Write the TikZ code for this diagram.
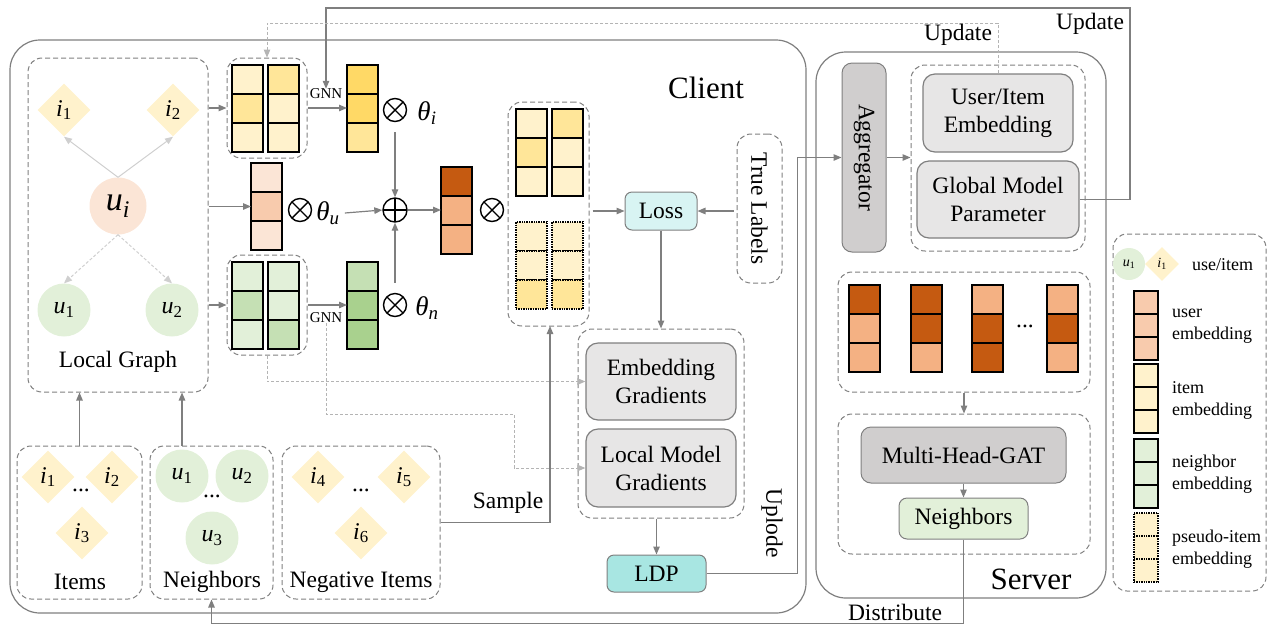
\documentclass[tikz,border=0pt]{standalone}
\usepackage{fontspec}
\setmainfont{Liberation Serif}
\usetikzlibrary{arrows.meta,shapes.geometric,calc}

\definecolor{itemL}{HTML}{FFF2CC}
\definecolor{itemM}{HTML}{FFE699}
\definecolor{itemD}{HTML}{FFD966}
\definecolor{userL}{HTML}{FBE5D6}
\definecolor{userM}{HTML}{F8CBAD}
\definecolor{nbL}{HTML}{E2F0D9}
\definecolor{nbM}{HTML}{C5E0B4}
\definecolor{nbD}{HTML}{A9D18E}
\definecolor{fusD}{HTML}{C55A11}
\definecolor{fusL}{HTML}{F4B183}
\definecolor{boxG}{HTML}{E7E6E6}
\definecolor{boxD}{HTML}{D0CECE}
\definecolor{lossC}{HTML}{D8F4F3}
\definecolor{ldpC}{HTML}{A8E6E2}
\definecolor{lineG}{HTML}{7F7F7F}
\definecolor{lineL}{HTML}{B4B4B4}
\definecolor{edgeL}{HTML}{CFCFCF}

% box given by its corners: style, name, x1, y1, x2, y2 (text follows)
\newcommand\place[6]{\node[#1, minimum width={#5-#3}, minimum height={#6-#4}] (#2) at ({(#3+#5)/2},{(#4+#6)/2})}
% a column of three embedding cells: [extra style] name, x, y, colours
\newcommand\ecol[7][]{%
  \node[cell,#1,fill=#5,anchor=north west] (#2a) at (#3,#4) {};
  \node[cell,#1,fill=#6,anchor=north] (#2b) at (#2a.south) {};
  \node[cell,#1,fill=#7,anchor=north] (#2c) at (#2b.south) {};}
\newcommand\vv[2]{\textit{#1}\textsubscript{#2}}

\begin{document}
\begin{tikzpicture}[x=1pt,y=-1pt,
  every node/.style={font=\fontsize{23.5}{28}\selectfont, inner sep=0pt},
  frame/.style={draw=lineG, line width=1.2pt, rounded corners=30pt},
  grp/.style={draw=lineG, line width=1pt, dash pattern=on 5pt off 3pt, rounded corners=14pt},
  cell/.style={draw=black, line width=1.4pt, minimum width=31pt, minimum height=29pt, outer sep=0pt},
  pseudo/.style={densely dotted, line width=1.1pt},
  arr/.style={draw=lineG, line width=1.2pt, -{Triangle[length=8pt,width=6.5pt]}},
  larr/.style={draw=lineL, line width=1pt, dash pattern=on 3pt off 2pt, -{Triangle[length=8pt,width=6.5pt]}},
  gedge/.style={draw=edgeL, line width=1pt, -{Triangle[length=8pt,width=6.5pt]}},
  itemd/.style={diamond, aspect=1, fill=itemL, minimum size=53pt, font=\fontsize{24}{24}\selectfont},
  nbc/.style={circle, fill=nbL, minimum size=53pt, font=\fontsize{24}{24}\selectfont},
  graybox/.style={draw=lineG, line width=1.2pt, fill=boxG, rounded corners=12pt, align=center, font=\fontsize{23.5}{28}\selectfont},
  darkbox/.style={draw=lineG, line width=1pt, fill=boxD, rounded corners=10pt},
  otimes/.style={circle, draw=black, line width=1.4pt, minimum size=23pt, path picture={
      \draw[line width=1.4pt] (path picture bounding box.north west) -- (path picture bounding box.south east)
        (path picture bounding box.north east) -- (path picture bounding box.south west);}},
  oplus/.style={circle, draw=black, line width=1.4pt, minimum size=24pt, path picture={
      \draw[line width=1.4pt] (path picture bounding box.north) -- (path picture bounding box.south)
        (path picture bounding box.east) -- (path picture bounding box.west);}},
  theta/.style={font=\fontsize{27}{27}\selectfont},
  small/.style={font=\fontsize{15}{15}\selectfont},
  legtxt/.style={font=\fontsize{18}{22}\selectfont, align=left, anchor=west},
]
\useasboundingbox (0,0) rectangle (1271,625);

% ---------- outer frames ----------
\place{frame}{client}{10}{40}{806}{613}{};
\place{frame}{server}{816}{52}{1106}{598}{};
\node[font=\fontsize{31}{31}\selectfont] (clientlbl) at (706,88) {Client};
\node[font=\fontsize{31}{31}\selectfont] (serverlbl) at (1031,579) {Server};

% ---------- local graph ----------
\place{grp}{lg}{28}{58}{208}{392}{};
\node[itemd] (gi1) at (64,110) {\vv{i}{1}};
\node[itemd] (gi2) at (173,110) {\vv{i}{2}};
\node[circle, fill=userL, minimum size=57pt, font=\fontsize{34}{34}\selectfont] (gui) at (118,206) {\vv{u}{\textit{i}}};
\node[nbc] (gu1) at (64,310) {\vv{u}{1}};
\node[nbc] (gu2) at (172,310) {\vv{u}{2}};
\draw[gedge] (gui.north) -- (gi1.south);
\draw[gedge] (gui.north) -- (gi2.south);
\draw[gedge, dash pattern=on 3pt off 2pt] (gui.south) -- (gu1.north);
\draw[gedge, dash pattern=on 3pt off 2pt] (gui.south) -- (gu2.north);
\node (lglbl) at (118,362) {Local Graph};

% ---------- item branch ----------
\place{grp}{ig}{227}{58}{307}{158}{};
\ecol{igA}{232}{65}{itemL}{itemM}{itemL}
\ecol{igB}{268}{65}{itemM}{itemL}{itemL}
\ecol{gi}{347}{65}{itemD}{itemD}{itemM}
\node[small] (gnnI) at (326,94) {GNN};
\node[otimes] (oti) at (395,110) {};
\node[theta] (thi) at (427,113) {\vv{θ}{\textit{i}}};

% ---------- user branch ----------
\ecol{uc}{251}{163}{userL}{userM}{userL}
\node[otimes] (otu) at (300,210) {};
\node[theta] (thu) at (328,213) {\vv{θ}{\textit{u}}};
\node[oplus] (op) at (395,210) {};

% ---------- neighbour branch ----------
\place{grp}{ng}{227}{255}{307}{355}{};
\ecol{ngA}{232}{262}{nbL}{nbM}{nbL}
\ecol{ngB}{268}{262}{nbL}{nbL}{nbM}
\ecol{gn}{347}{262}{nbM}{nbD}{nbD}
\node[small] (gnnN) at (326,318) {GNN};
\node[otimes] (otn) at (395,305) {};
\node[theta] (thn) at (427,308) {\vv{θ}{\textit{n}}};

% ---------- fusion ----------
\ecol{fc}{441}{167}{fusD}{fusL}{fusL}
\node[otimes] (otc) at (492,210) {};

\place{grp}{cg}{508}{102}{589}{326}{};
\ecol{cgA}{516}{109}{itemL}{itemM}{itemL}
\ecol{cgB}{552}{109}{itemM}{itemL}{itemL}
\ecol[pseudo]{cgC}{516}{222}{itemL}{itemL}{itemM}
\ecol[pseudo]{cgD}{552}{222}{itemL}{itemL}{itemM}

\place{draw=lineG, line width=1pt, fill=lossC, rounded corners=7pt}{loss}{625}{192}{697}{230}{Loss};
\place{grp}{tl}{737}{134}{782}{283}{};
\node[rotate=-90] (tltxt) at (tl.center) {True Labels};

\place{grp}{gg}{578}{329}{744}{518}{};
\place{graybox}{eg}{586}{343}{736}{420}{Embedding\\Gradients};
\place{graybox}{lmg}{586}{429}{736}{507}{Local Model\\Gradients};
\place{draw=lineG, line width=1pt, fill=ldpC, rounded corners=7pt}{ldp}{607}{555}{706}{592}{LDP};
\node[rotate=-90] (uplode) at (772,523) {Uplode};

% ---------- bottom inputs ----------
\place{grp}{itg}{17}{446}{142}{599}{};
\node[itemd] (bi1) at (48,477) {\vv{i}{1}};
\node[itemd] (bi2) at (112,477) {\vv{i}{2}};
\node[itemd] (bi3) at (82,533) {\vv{i}{3}};
\node (bdots1) at (81,490) {...};
\node (itlbl) at (80,582) {Items};

\place{grp}{nbg}{150}{446}{273}{599}{};
\node[nbc] (bu1) at (182,476) {\vv{u}{1}};
\node[nbc] (bu2) at (242,476) {\vv{u}{2}};
\node[nbc] (bu3) at (212,538) {\vv{u}{3}};
\node (bdots2) at (212,496) {...};
\node (nblbl) at (212,582) {Neighbors};

\place{grp}{neg}{282}{446}{440}{599}{};
\node[itemd] (bi4) at (318,477) {\vv{i}{4}};
\node[itemd] (bi5) at (404,477) {\vv{i}{5}};
\node[itemd] (bi6) at (361,533) {\vv{i}{6}};
\node (bdots3) at (361,490) {...};
\node (neglbl) at (361,582) {Negative Items};

% ---------- server ----------
\place{darkbox}{agg}{842}{63}{886}{252}{};
\node[rotate=-90] (aggtxt) at (agg.center) {Aggregator};
\place{grp}{sg}{911}{65}{1085}{251}{};
\place{graybox}{uie}{923}{74}{1073}{152}{User/Item\\Embedding};
\place{graybox}{gmp}{917}{161}{1079}{238}{Global Model\\Parameter};

\place{grp}{seg}{838}{272}{1090}{392}{};
\ecol{sa}{849}{285}{fusD}{fusL}{fusL}
\ecol{sb}{911}{285}{fusD}{fusD}{fusL}
\ecol{sc}{972}{285}{fusL}{fusD}{fusD}
\ecol{sd}{1047}{285}{fusL}{fusD}{fusL}
\node (sdots) at (1025,326) {...};

\place{grp}{gatg}{838}{414}{1090}{554}{};
\place{darkbox}{gat}{861}{427}{1066}{483}{Multi-Head-GAT};
\place{draw=lineG, line width=1pt, fill=nbL, rounded corners=8pt}{nbr}{899}{498}{1028}{539}{Neighbors};

% ---------- legend ----------
\place{grp}{leg}{1113}{234}{1266}{591}{};
\node[circle, fill=nbL, minimum size=32pt, font=\fontsize{14}{14}\selectfont] (lu) at (1129,264) {\vv{u}{1}};
\node[diamond, aspect=1, fill=itemL, minimum size=34pt, font=\fontsize{14}{14}\selectfont] (li) at (1162,264) {\vv{i}{1}};
\node[legtxt] (lui) at (1192,265) {use/item};
\ecol[minimum width=24pt, minimum height=23pt]{lA}{1134}{291}{userM}{userM}{userM}
\ecol[minimum width=24pt, minimum height=23pt]{lB}{1134}{364}{itemL}{itemL}{itemL}
\ecol[minimum width=24pt, minimum height=23pt]{lC}{1134}{439}{nbL}{nbL}{nbL}
\ecol[pseudo, minimum width=24pt, minimum height=23pt]{lD}{1134}{513}{itemL}{itemL}{itemL}
\node[legtxt] (ltA) at (1172,326) {user\\embedding};
\node[legtxt] (ltB) at (1172,400) {item\\embedding};
\node[legtxt] (ltC) at (1172,474) {neighbor\\embedding};
\node[legtxt] (ltD) at (1172,549) {pseudo-item\\embedding};

% ---------- connectors ----------
\draw[arr] (lg.east |- ig.west) -- (ig.west);
\draw[arr] (lg.east |- ucb.west) -- (ucb.west);
\draw[arr] (lg.east |- ng.west) -- (ng.west);
\draw[arr] (ig.east) -- (ig.east -| gib.west);
\draw[arr] (ng.east) -- (ng.east -| gnb.west);
\draw[arr, shorten <=10pt] (oti.south) -- (op.north);
\draw[arr, shorten <=10pt] (otn.north) -- (op.south);
\draw[arr] (thu.east) ++(5,0) -- (op.west);
\draw[arr] (op.east) -- (op.east -| fcb.west);
\draw[arr, shorten <=3pt] (cg.east |- loss.west) -- (loss.west);
\draw[arr, shorten <=3pt] (tl.west |- loss.east) -- (loss.east);
\draw[arr] (loss.south) -- (loss.south |- gg.north);
\draw[arr] (ldp.north |- gg.south) -- (ldp.north);
\draw[arr] (itg.north) -- (itg.north |- lg.south);
\draw[arr] (nbg.north -| bu1) -- (lg.south -| bu1);
\coordinate (smp) at (550,326);
\draw[arr] (neg.east) -| (smp);
\node (smplbl) at (508,503) {Sample};
\draw[arr] (ldp.east) -- ++(91,0) |- (agg.west);
\draw[arr] (agg.east) -- (agg.east -| sg.west);
\draw[arr] (seg.south) -- (seg.south |- gatg.north);
\draw[arr] (gat.south) -- (nbr.north);
\draw[arr] (nbr.south) -- ++(0,84) -| (nbg.south);
\node (distlbl) at (895,612) {Distribute};

\coordinate (updA) at (1130,8);
\draw[arr] (gmp.east) -| (updA) -| (gnnI.north);
\node (updlblA) at (1090,24) {Update};
\coordinate (updB) at (998,23);
\draw[larr] (uie.north) -- (updB) -| (ig.north);
\node (updlblB) at (958,35) {Update};

\draw[larr] (ng.south) |- (eg.west);
\coordinate (bend) at (514,414);
\draw[larr] (gnnN.south) |- (bend) |- (lmg.west);
\end{tikzpicture}
\end{document}
